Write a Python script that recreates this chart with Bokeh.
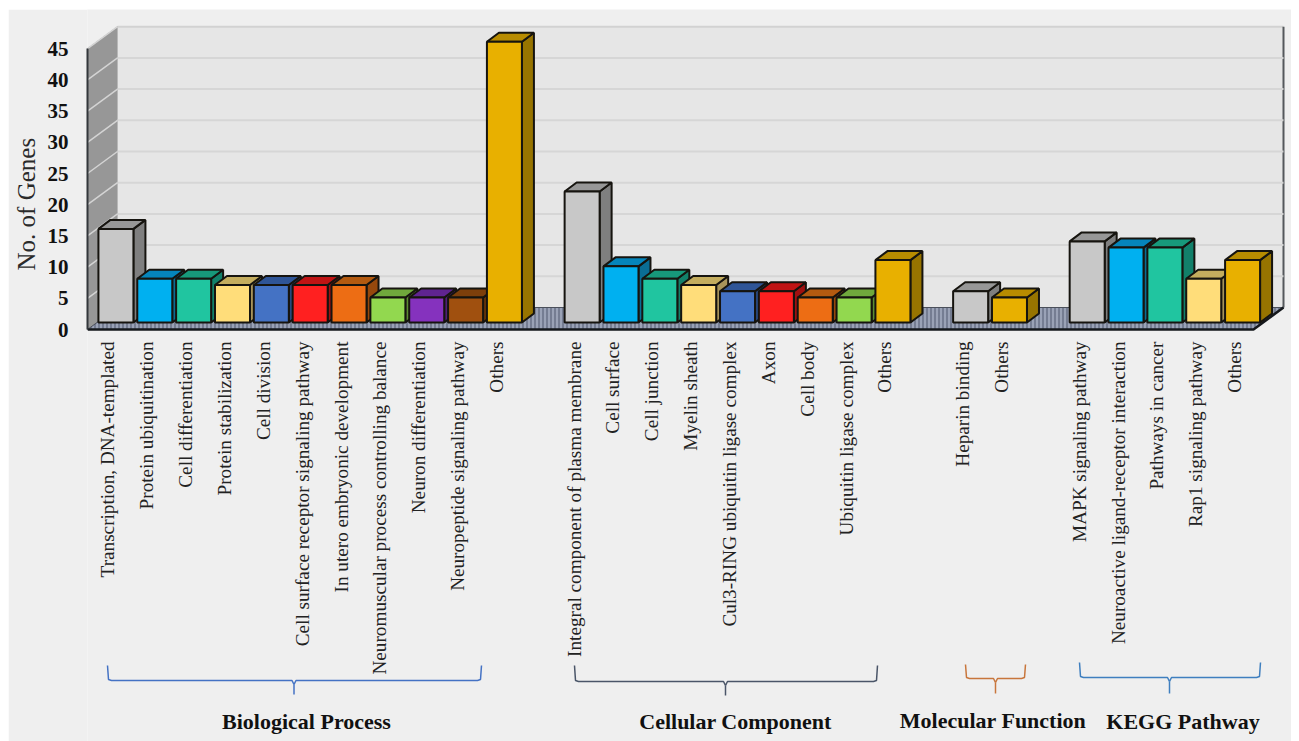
import math

from bokeh.core.properties import value
from bokeh.embed import file_html
from bokeh.models import FixedTicker, LinearAxis, Range1d, Title
from bokeh.plotting import figure
from bokeh.resources import INLINE

# Gene counts per annotation term, one list per category group
bp_terms = ["Transcription, DNA-templated", "Protein ubiquitination", "Cell differentiation",
            "Protein stabilization", "Cell division", "Cell surface receptor signaling pathway",
            "In utero embryonic development", "Neuromuscular process controlling balance",
            "Neuron differentiation", "Neuropeptide signaling pathway", "Others"]
bp_counts = [15, 7, 7, 6, 6, 6, 6, 4, 4, 4, 45]

cc_terms = ["Integral component of plasma membrane", "Cell surface", "Cell junction", "Myelin sheath",
            "Cul3-RING ubiquitin ligase complex", "Axon", "Cell body", "Ubiquitin ligase complex", "Others"]
cc_counts = [21, 9, 7, 6, 5, 5, 4, 4, 10]

mf_terms = ["Heparin binding", "Others"]
mf_counts = [5, 4]

kegg_terms = ["MAPK signaling pathway", "Neuroactive ligand-receptor interaction", "Pathways in cancer",
              "Rap1 signaling pathway", "Others"]
kegg_counts = [13, 12, 12, 7, 10]

group_names = ["Biological Process", "Cellular Component", "Molecular Function", "KEGG Pathway"]
y_ticks = [0, 5, 10, 15, 20, 25, 30, 35, 40, 45]

# (front, top, side) colours of the bars, in the order they repeat within a group
GREY = ("#c8c8c8", "#979797", "#7f7f7f")
SKY = ("#00b0f0", "#0585bb", "#0a6d94")
TEAL = ("#20c5a0", "#17997b", "#12806a")
SAND = ("#ffdd7a", "#c4ad5e", "#a8945a")
BLUE = ("#4472c4", "#2f5597", "#29497f")
RED = ("#ff2020", "#c01414", "#a01010")
ORANGE = ("#ed6d14", "#b35a10", "#96480c")
LIME = ("#92d84f", "#70a83c", "#5d8e32")
PURPLE = ("#8532be", "#5f2490", "#4f1e78")
BROWN = ("#a0500f", "#7d3f0b", "#693509")
GOLD = ("#e8b000", "#b88c00", "#977400")

bp_colors = [GREY, SKY, TEAL, SAND, BLUE, RED, ORANGE, LIME, PURPLE, BROWN, GOLD]
cc_colors = [GREY, SKY, TEAL, SAND, BLUE, RED, ORANGE, LIME, GOLD]
mf_colors = [GREY, GOLD]
kegg_colors = [GREY, SKY, TEAL, SAND, GOLD]

PANEL = "#efefef"
SERIF = "Liberation Serif"

# Plot geometry in page pixels: the figure sits inside a white page margin
PAGE_LEFT, PAGE_TOP = 8, 9
FRAME_LEFT, FRAME_RIGHT = 87, 1291
FRAME_TOP, FRAME_BOTTOM = 9, 741
BASE_Y = 329
SLOT = 38.85
UNIT = 6.24


def dx(px):
    return px / SLOT


def dy(px):
    return px / UNIT


def x_at(px):
    return (px - FRAME_LEFT) / SLOT - 0.5


def y_at(px):
    return (BASE_Y - px) / UNIT


p = figure(
    width=FRAME_RIGHT - PAGE_LEFT, height=FRAME_BOTTOM - PAGE_TOP,
    x_range=Range1d(x_at(FRAME_LEFT), x_at(FRAME_RIGHT)),
    y_range=Range1d(y_at(FRAME_BOTTOM), y_at(FRAME_TOP)),
    output_backend="svg", toolbar_location=None,
    x_axis_location=None, y_axis_location=None,
    min_border_left=FRAME_LEFT - PAGE_LEFT, min_border_right=0,
    min_border_top=0, min_border_bottom=0,
    margin=(PAGE_TOP, 0, 0, PAGE_LEFT),
    background_fill_color=PANEL, border_fill_color=PANEL, outline_line_color=None,
)
p.grid.visible = False

# Walls and floor of the box, set back by a fixed depth from the front plane
WALL_DX, WALL_DY = dx(30), dy(22)
x0 = x_at(FRAME_LEFT)
x1 = x_at(1253)
top = y_ticks[-1]

p.patch([x0, x0 + WALL_DX, x0 + WALL_DX, x0], [0, WALL_DY, top + WALL_DY, top],
        fill_color="#979797", line_color="#8a8a8a", line_width=1)
p.patch([x0 + WALL_DX, x1 + WALL_DX, x1 + WALL_DX, x0 + WALL_DX],
        [WALL_DY, WALL_DY, top + WALL_DY, top + WALL_DY],
        fill_color="#e6e6e6", line_color=None)
p.line([x0 + WALL_DX, x1 + WALL_DX], [top + WALL_DY, top + WALL_DY], line_color="#d2d2d2", line_width=2)
p.line([x1 + WALL_DX, x1 + WALL_DX], [WALL_DY, top + WALL_DY], line_color="#55585c", line_width=2)

p.multi_line([[x0, x0 + WALL_DX] for _ in y_ticks[1:]],
             [[v, v + WALL_DY] for v in y_ticks[1:]], line_color="#d4d4d4", line_width=1.5)
p.multi_line([[x0 + WALL_DX, x1 + WALL_DX] for _ in y_ticks[1:-1]],
             [[v + WALL_DY, v + WALL_DY] for v in y_ticks[1:-1]], line_color="#d6d6d6", line_width=2)

p.patch([x0, x0 + WALL_DX, x1 + WALL_DX, x1], [0, WALL_DY, WALL_DY, 0],
        fill_color="#9aa2b6", line_color="#4a4f5a", line_width=1,
        hatch_pattern="vertical_line", hatch_color="#687086", hatch_scale=4, hatch_weight=1.5)
p.line([x0, x1, x1 + WALL_DX], [0, 0, WALL_DY], line_color="#15181c", line_width=2.5)

# Bars: front faces are real vbars; top and side faces extrude each one backwards
BAR_WIDTH = 35 / SLOT
BAR_SHIFT = dx(9)
BAR_BASE = dy(7)
BAR_DX, BAR_DY = dx(12), dy(9)
EDGE = "#16140f"

groups = [
    (bp_terms, bp_counts, bp_colors, 0),
    (cc_terms, cc_counts, cc_colors, 12),
    (mf_terms, mf_counts, mf_colors, 22),
    (kegg_terms, kegg_counts, kegg_colors, 25),
]
label_x = []
label_text = []
for terms, counts, colors, start in groups:
    for k, (term, count, (front, lid, side)) in enumerate(zip(terms, counts, colors)):
        slot = start + k
        label_x.append(slot + dx(1))
        label_text.append(term)
        left = slot + BAR_SHIFT - BAR_WIDTH / 2
        right = slot + BAR_SHIFT + BAR_WIDTH / 2
        upper = count + BAR_BASE
        p.patch([right, right + BAR_DX, right + BAR_DX, right],
                [BAR_BASE, BAR_BASE + BAR_DY, upper + BAR_DY, upper],
                fill_color=side, line_color=EDGE, line_width=2)
        p.patch([left, left + BAR_DX, right + BAR_DX, right],
                [upper, upper + BAR_DY, upper + BAR_DY, upper],
                fill_color=lid, line_color=EDGE, line_width=2)
        p.vbar(x=[slot + BAR_SHIFT], width=BAR_WIDTH, bottom=BAR_BASE, top=[upper],
               fill_color=front, line_color=EDGE, line_width=2)

# Value axis along the front edge of the left wall
y_axis = LinearAxis(
    ticker=FixedTicker(ticks=y_ticks), bounds=(0, 45),
    axis_line_color="#33373b", axis_line_width=2,
    major_tick_line_color=None, minor_tick_line_color=None,
    major_label_standoff=13,
    major_label_text_font=SERIF, major_label_text_font_style="bold",
    major_label_text_font_size="21px", major_label_text_color="#111111",
)
p.add_layout(y_axis, "left")

# The value title is offset along the frame so it centres on the lower half of the axis
p.add_layout(Title(
    text="No. of Genes", align="left", vertical_align="top", offset=FRAME_BOTTOM - 270, standoff=5,
    text_font=SERIF, text_font_style="normal", text_font_size="25px", text_color="#2a2a2a",
), "left")

# Vertical term labels hanging under the floor
p.text(x=label_x, y=[y_at(341)] * len(label_x), text=label_text,
       angle=math.pi / 2, text_align="right", text_baseline="middle",
       text_font=value(SERIF), text_font_size="19.2px", text_color="#222222")


def bracket(xa, xb, xc, y_arm, y_bar, y_tip, color):
    """Curly bracket: two arms, a long bar and a centre spike."""
    r = 4
    xs = [xa, xa + 1, xa + r, xc - 2, xc, xc + 2, xb - r, xb - 1, xb]
    ys = [y_arm, y_bar - 1, y_bar, y_bar, y_bar + 4, y_bar, y_bar, y_bar - 1, y_arm]
    p.line([x_at(v) for v in xs], [y_at(v) for v in ys], line_color=color, line_width=1.5)
    p.line([x_at(xc), x_at(xc)], [y_at(y_bar + 4), y_at(y_tip)], line_color=color, line_width=1.5)


bracket(107, 481, 293.5, 665, 680, 694, "#4472c4")
bracket(574, 877, 725, 665, 681, 695, "#4a5568")
bracket(965, 1025, 995, 664, 678, 693, "#c8763c")
bracket(1079, 1260, 1169, 662, 677, 693, "#3f7fbf")

# Group captions below the brackets
p.text(x=[x_at(v) for v in [306, 735, 992.5, 1182.5]],
       y=[y_at(v) for v in [721, 721, 720, 721]], text=group_names,
       text_align="center", text_baseline="middle",
       text_font=value(SERIF), text_font_style="bold", text_font_size="22px", text_color="#111111")

open("out.html", "w").write(file_html(p, INLINE))
